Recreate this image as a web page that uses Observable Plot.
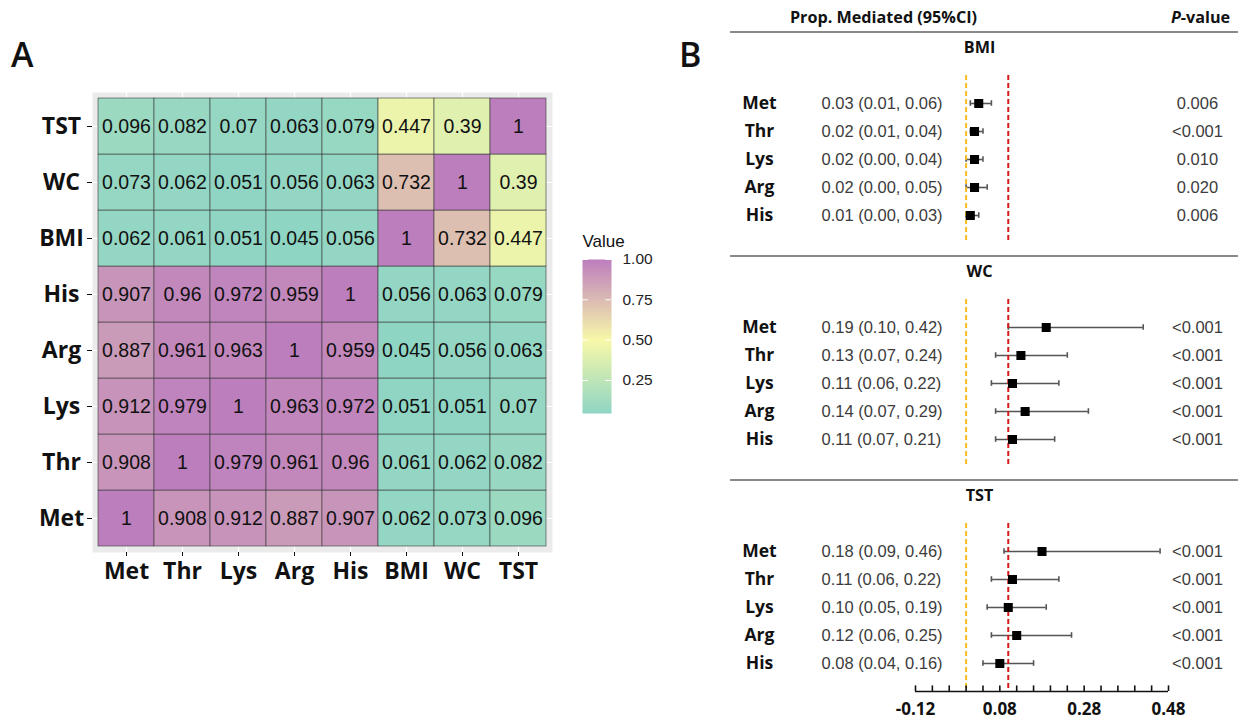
<!DOCTYPE html>
<html><head><meta charset="utf-8">
<script src="https://cdn.jsdelivr.net/npm/d3@7"></script>
<script src="https://cdn.jsdelivr.net/npm/@observablehq/plot@0.6"></script>
<style>
body{margin:0;background:#fff;}
#root{position:relative;width:1238px;height:721px;overflow:hidden;background:#fff;}
.panel{position:absolute;}
.tag{position:absolute;font-family:"Open Sans",sans-serif;font-weight:600;font-size:34px;color:#111;line-height:1;z-index:5;}
</style></head><body>
<div id="root">
  <div class="tag" style="left:11px;top:37px">A</div>
  <div class="tag" style="left:679px;top:37px">B</div>
</div>
<script>
// ---------- Panel A data ----------
const vars = ["Met", "Thr", "Lys", "Arg", "His", "BMI", "WC", "TST"];
const rowMet = [1, 0.908, 0.912, 0.887, 0.907, 0.062, 0.073, 0.096];
const rowThr = [0.908, 1, 0.979, 0.961, 0.96, 0.061, 0.062, 0.082];
const rowLys = [0.912, 0.979, 1, 0.963, 0.972, 0.051, 0.051, 0.07];
const rowArg = [0.887, 0.961, 0.963, 1, 0.959, 0.045, 0.056, 0.063];
const rowHis = [0.907, 0.96, 0.972, 0.959, 1, 0.056, 0.063, 0.079];
const rowBMI = [0.062, 0.061, 0.051, 0.045, 0.056, 1, 0.732, 0.447];
const rowWC  = [0.073, 0.062, 0.051, 0.056, 0.063, 0.732, 1, 0.39];
const rowTST = [0.096, 0.082, 0.07, 0.063, 0.079, 0.447, 0.39, 1];
const legendTicks = [0.25, 0.5, 0.75, 1.0];

// ---------- Panel B data ----------
const outcomes = ["BMI", "WC", "TST"];
const metabolites = ["Met", "Thr", "Lys", "Arg", "His"];
const bmiEst = [0.03, 0.02, 0.02, 0.02, 0.01];
const bmiLo  = [0.01, 0.01, 0.00, 0.00, 0.00];
const bmiHi  = [0.06, 0.04, 0.04, 0.05, 0.03];
const bmiP   = ["0.006", "<0.001", "0.010", "0.020", "0.006"];
const wcEst  = [0.19, 0.13, 0.11, 0.14, 0.11];
const wcLo   = [0.10, 0.07, 0.06, 0.07, 0.07];
const wcHi   = [0.42, 0.24, 0.22, 0.29, 0.21];
const wcP    = ["<0.001", "<0.001", "<0.001", "<0.001", "<0.001"];
const tstEst = [0.18, 0.11, 0.10, 0.12, 0.08];
const tstLo  = [0.09, 0.06, 0.05, 0.06, 0.04];
const tstHi  = [0.46, 0.22, 0.19, 0.25, 0.16];
const tstP   = ["<0.001", "<0.001", "<0.001", "<0.001", "<0.001"];
const nullLine = 0;
const refLine = 0.10;
const axisTicks = [-0.12, -0.08, -0.04, 0, 0.04, 0.08, 0.12, 0.16, 0.20, 0.24, 0.28, 0.32, 0.36, 0.40, 0.44, 0.48];
const axisLabels = [-0.12, 0.08, 0.28, 0.48];

const root = document.getElementById("root");
function place(el, left, top) {
  el.classList.add("panel");
  el.style.left = left + "px";
  el.style.top = top + "px";
  root.appendChild(el);
}

// ---------- Panel A: heatmap ----------
const matrix = [rowMet, rowThr, rowLys, rowArg, rowHis, rowBMI, rowWC, rowTST];
const cells = [];
vars.forEach((r, i) => vars.forEach((c, j) => cells.push({row: r, col: c, value: matrix[i][j]})));
const vmin = d3.min(cells, d => d.value);
const colorSpec = {type: "linear", domain: [vmin, 0.5, 1], range: ["#8fd5c4", "#f8f8a8", "#bd7ebe"], interpolate: "rgb"};

const heat = Plot.plot({
  width: 560, height: 600,
  marginLeft: 92, marginRight: 8, marginTop: 92, marginBottom: 48,
  style: {background: "transparent", fontFamily: "Open Sans", overflow: "visible"},
  x: {domain: vars, range: [97, 547], padding: 0, label: null, axis: null},
  y: {domain: [...vars].reverse(), range: [97, 547], padding: 0, label: null, axis: null},
  color: colorSpec,
  marks: [
    Plot.frame({fill: "#ebebeb", stroke: null}),
    Plot.gridX({stroke: "white", strokeOpacity: 1, strokeWidth: 1.2}),
    Plot.gridY({stroke: "white", strokeOpacity: 1, strokeWidth: 1.2}),
    Plot.cell(cells, {x: "col", y: "row", fill: "value", stroke: "#3a3a3a", strokeWidth: 0.6}),
    Plot.text(cells, {x: "col", y: "row", text: d => String(d.value), fontSize: 19.5, fontFamily: "Liberation Sans", fill: "#111"}),
    Plot.axisX({anchor: "bottom", tickSize: 4, tickPadding: 6, fontSize: 23, fontWeight: "bold", fontFamily: "Open Sans", color: "#111", label: null}),
    Plot.axisY({anchor: "left", tickSize: 5, tickPadding: 26, textAnchor: "middle", fontSize: 23, fontWeight: "bold", fontFamily: "Open Sans", color: "#111", label: null})
  ]
});
place(heat, 0, 0);

// legend (vertical colour bar)
const legend = Plot.plot({
  width: 110, height: 220,
  marginLeft: 0, marginRight: 0, marginTop: 0, marginBottom: 0,
  style: {background: "transparent", fontFamily: "Liberation Sans", overflow: "visible"},
  x: {domain: [0, 1], range: [22, 51], axis: null},
  y: {domain: [vmin, 1], range: [193, 39], axis: null},
  color: colorSpec,
  marks: [
    Plot.raster({x1: 0, x2: 1, y1: vmin, y2: 1, width: 1, height: 200, fill: (x, y) => y, imageRendering: "auto"}),
    Plot.ruleY(legendTicks, {y: d => d, x1: 0, x2: 0.2, stroke: "white", strokeWidth: 1}),
    Plot.ruleY(legendTicks, {y: d => d, x1: 0.8, x2: 1, stroke: "white", strokeWidth: 1}),
    Plot.text(legendTicks, {y: d => d, x: 1, dx: 11, text: d => d.toFixed(2), textAnchor: "start", fontSize: 15.5, fill: "#222"}),
    Plot.text(["Value"], {x: 0, y: 1, dy: -18, text: d => d, textAnchor: "start", fontSize: 17, fill: "#111"})
  ]
});
place(legend, 560, 220);

// ---------- Panel B: forest plot ----------
const estBy = {BMI: bmiEst, WC: wcEst, TST: tstEst};
const loBy = {BMI: bmiLo, WC: wcLo, TST: tstLo};
const hiBy = {BMI: bmiHi, WC: wcHi, TST: tstHi};
const pBy = {BMI: bmiP, WC: wcP, TST: tstP};
const slotsPerSection = 8;
const forest = [];
outcomes.forEach((o, s) => metabolites.forEach((m, r) => forest.push({
  outcome: o, met: m, est: estBy[o][r], lo: loBy[o][r], hi: hiBy[o][r], p: pBy[o][r],
  slot: s * slotsPerSection + 2 + r
})));
const sections = outcomes.map((o, s) => ({name: o, top: s * slotsPerSection}));
const axisSlot = outcomes.length * slotsPerSection - 1;
const fmt = v => v.toFixed(2);

const forestPlot = Plot.plot({
  width: 518, height: 721,
  marginLeft: 10, marginRight: 0, marginTop: 0, marginBottom: 0,
  style: {background: "transparent", fontFamily: "Open Sans", overflow: "visible"},
  x: {domain: [axisLabels[0], axisLabels[axisLabels.length - 1]], range: [195, 448], axis: null},
  y: {type: "linear", domain: [0, axisSlot], range: [47, 691], axis: null},
  marks: [
    // header
    Plot.text(["Prop. Mediated (95%CI)"], {y: () => -1.05, frameAnchor: "left", dx: 153, textAnchor: "middle", text: d => d, fontWeight: "bold", fontSize: 16.2, fill: "#111"}),
    Plot.text(["P-value"], {y: () => -1.05, frameAnchor: "right", dx: -38, textAnchor: "middle", text: d => d, fontWeight: "bold", fontSize: 16.2, fill: "#111"}),
    // separator lines
    Plot.ruleY(sections, {y: d => d.top - 0.55, stroke: "#8a8a8a", strokeWidth: 2}),
    // section titles
    Plot.text(sections, {y: "top", text: "name", frameAnchor: "middle", dx: -5, textAnchor: "middle", fontWeight: "bold", fontSize: 16.2, fill: "#111"}),
    // whiskers
    Plot.ruleY(forest, {y: "slot", x1: "lo", x2: "hi", stroke: "#555", strokeWidth: 1.6}),
    Plot.ruleX(forest, {x: "lo", y1: d => d.slot - 0.1, y2: d => d.slot + 0.1, stroke: "#555", strokeWidth: 1.6}),
    Plot.ruleX(forest, {x: "hi", y1: d => d.slot - 0.1, y2: d => d.slot + 0.1, stroke: "#555", strokeWidth: 1.6}),
    // reference lines
    Plot.ruleX(sections, {x: () => nullLine, y1: d => d.top + 1, y2: d => d.top + 7, stroke: "#f2bd1d", strokeWidth: 2, strokeDasharray: "5,3"}),
    Plot.ruleX(sections, {x: () => refLine, y1: d => d.top + 1, y2: d => d.top + 7, stroke: "#d7191c", strokeWidth: 2, strokeDasharray: "5,3"}),
    // estimates
    Plot.dot(forest, {x: "est", y: "slot", symbol: "square", r: 5.1, fill: "#000", stroke: null}),
    // text columns
    Plot.text(forest, {y: "slot", text: "met", frameAnchor: "left", dx: 29, textAnchor: "middle", fontWeight: "bold", fontSize: 17.5, fill: "#111"}),
    Plot.text(forest, {y: "slot", text: d => `${fmt(d.est)} (${fmt(d.lo)}, ${fmt(d.hi)})`, frameAnchor: "left", dx: 91, textAnchor: "start", fontFamily: "Liberation Sans", fontSize: 16.5, fill: "#3c3c3c"}),
    Plot.text(forest, {y: "slot", text: "p", frameAnchor: "right", dx: -41, textAnchor: "middle", fontFamily: "Liberation Sans", fontSize: 16.5, fill: "#3c3c3c"}),
    // x axis
    Plot.ruleY([axisSlot], {y: d => d, x1: axisLabels[0], x2: axisLabels[axisLabels.length - 1], stroke: "#111", strokeWidth: 1.6}),
    Plot.ruleX(axisTicks, {x: d => d, y1: axisSlot - 0.2, y2: axisSlot, stroke: "#111", strokeWidth: 1.6}),
    Plot.text(axisLabels, {x: d => d, y: () => axisSlot, dy: 18, text: d => d.toFixed(2), fontWeight: "bold", fontSize: 17, fill: "#111"})
  ]
});
place(forestPlot, 720, 0);

// italic "P" in the P-value header
d3.select(forestPlot).selectAll("text").filter(function () { return this.textContent === "P-value"; })
  .each(function () {
    const t = d3.select(this);
    t.text("");
    t.append("tspan").attr("font-style", "italic").text("P");
    t.append("tspan").text("-value");
  });
</script>
</body></html>
